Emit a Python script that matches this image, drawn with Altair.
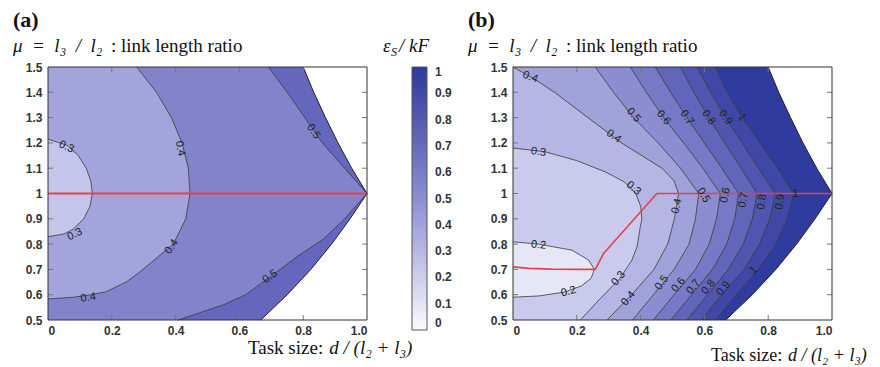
import altair as alt
import pandas as pd

# ---------------- data ----------------
# workspace boundary (same for both panels)
bnd_y = [0.5, 0.6, 0.7, 0.8, 0.9, 1.0, 1.1, 1.2, 1.3, 1.4, 1.5]
bnd_x = [0.667, 0.75, 0.824, 0.889, 0.947, 1.0, 0.952, 0.909, 0.87, 0.833, 0.80]

# panel (a) contours
a_c03_y = [0.829, 0.84, 0.86, 0.90, 0.95, 1.00, 1.05, 1.10, 1.15, 1.19, 1.215]
a_c03_x = [0.0, 0.05, 0.08, 0.112, 0.132, 0.139, 0.134, 0.12, 0.095, 0.06, 0.0]
a_c04_y = [0.583, 0.59, 0.60, 0.612, 0.65, 0.69, 0.75, 0.80, 0.90, 1.00, 1.10, 1.20, 1.30, 1.40, 1.50]
a_c04_x = [0.0, 0.08, 0.135, 0.183, 0.245, 0.288, 0.345, 0.393, 0.432, 0.445, 0.44, 0.42, 0.387, 0.34, 0.278]
a_c05_y = [0.50, 0.56, 0.60, 0.67, 0.75, 0.82, 0.90, 1.00, 1.10, 1.20, 1.30, 1.40, 1.50]
a_c05_x = [0.408, 0.55, 0.62, 0.696, 0.78, 0.864, 0.93, 1.0, 0.93, 0.86, 0.805, 0.75, 0.691]
a_red_x = [0.0, 1.0]
a_red_y = [1.0, 1.0]

# panel (b) contours
b_c02_y = [0.59, 0.595, 0.61, 0.635, 0.665, 0.70, 0.737, 0.776, 0.80, 0.809]
b_c02_x = [0.0, 0.08, 0.16, 0.215, 0.245, 0.255, 0.237, 0.185, 0.08, 0.0]
b_c03_y = [0.5, 0.58, 0.664, 0.737, 0.79, 0.868, 0.9, 0.95, 1.0, 1.045, 1.085, 1.13, 1.165, 1.18]
b_c03_x = [0.211, 0.27, 0.335, 0.373, 0.389, 0.399, 0.404, 0.40, 0.385, 0.35, 0.29, 0.2, 0.1, 0.0]
b_c04_y = [0.5, 0.6, 0.7, 0.8, 0.9, 1.0, 1.05, 1.1, 1.2, 1.3, 1.4, 1.45, 1.5]
b_c04_x = [0.295, 0.372, 0.442, 0.485, 0.506, 0.519, 0.505, 0.467, 0.34, 0.235, 0.13, 0.07, 0.0]
b_grid_y = [0.5, 0.6, 0.7, 0.8, 0.9, 1.0, 1.1, 1.2, 1.3, 1.4, 1.5]
b_c05_x = [0.375, 0.44, 0.505, 0.552, 0.572, 0.582, 0.525, 0.455, 0.378, 0.315, 0.258]
b_c06_x = [0.44, 0.505, 0.572, 0.615, 0.638, 0.65, 0.595, 0.535, 0.472, 0.418, 0.368]
b_c07_x = [0.495, 0.56, 0.625, 0.67, 0.695, 0.707, 0.655, 0.60, 0.545, 0.494, 0.446]
b_c08_x = [0.545, 0.61, 0.675, 0.722, 0.75, 0.765, 0.715, 0.664, 0.613, 0.567, 0.525]
b_c09_x = [0.59, 0.655, 0.725, 0.773, 0.805, 0.822, 0.77, 0.718, 0.666, 0.62, 0.577]
b_c10_x = [0.635, 0.70, 0.77, 0.825, 0.86, 0.88, 0.83, 0.775, 0.718, 0.672, 0.634]
b_red_x = [0.0, 0.05, 0.12, 0.2, 0.258, 0.284, 0.451, 1.0]
b_red_y = [0.71, 0.704, 0.701, 0.70, 0.70, 0.763, 1.0, 1.0]

# contour labels: text, x, y, angle (degrees, clockwise)
a_lab_t = ["0.3", "0.3", "0.4", "0.4", "0.4", "0.5", "0.5"]
a_lab_x = [0.058, 0.084, 0.414, 0.388, 0.126, 0.832, 0.696]
a_lab_y = [1.184, 0.838, 1.178, 0.789, 0.588, 1.245, 0.671]
a_lab_a = [25, 335, 80, 305, 352, 55, 325]

b_lab_t = ["0.4", "0.4", "0.5", "0.6", "0.7", "0.8", "0.9", "1",
           "0.3", "0.3", "0.4", "0.5", "0.6", "0.7", "0.8", "0.9", "1",
           "0.2", "0.2", "0.3", "0.4", "0.5", "0.6", "0.7", "0.8", "0.9", "1"]
b_lab_x = [0.054, 0.316, 0.378, 0.472, 0.545, 0.613, 0.666, 0.718,
           0.08, 0.378, 0.514, 0.597, 0.666, 0.723, 0.781, 0.838, 0.885,
           0.08, 0.174, 0.331, 0.362, 0.467, 0.519, 0.566, 0.613, 0.66, 0.754]
b_lab_y = [1.46, 1.226, 1.31, 1.30, 1.30, 1.30, 1.30, 1.30,
           1.164, 1.02, 0.95, 0.993, 0.993, 0.974, 0.967, 0.967, 1.0,
           0.796, 0.612, 0.664, 0.585, 0.647, 0.638, 0.631, 0.63, 0.625, 0.697]
b_lab_a = [20, 35, 50, 50, 55, 55, 55, 55,
           8, 40, 285, 60, 280, 280, 280, 280, 0,
           5, 345, 310, 310, 305, 310, 310, 310, 310, 315]

# band colours
a_cols = {"bnd": "#6566bd", "c05": "#8283cb", "c04": "#a3a4dc", "c03": "#c4c5ea"}
b_cols = {"bnd": "#2f3c9e", "c10": "#4048a7", "c09": "#5055b0", "c08": "#6266ba",
          "c07": "#7679c5", "c06": "#8b8dd0", "c05": "#a1a2da", "c04": "#b6b6e4",
          "c03": "#cacaed", "c02": "#e6e6f6"}

cb_vals = [0, 0.1, 0.2, 0.3, 0.4, 0.5, 0.6, 0.7, 0.8, 0.9, 1.0]
x_ticks = [0, 0.2, 0.4, 0.6, 0.8, 1.0]
y_ticks = [0.5, 0.6, 0.7, 0.8, 0.9, 1.0, 1.1, 1.2, 1.3, 1.4, 1.5]
x_inner = [0.2, 0.4, 0.6, 0.8]
y_inner = [0.6, 0.7, 0.8, 0.9, 1.0, 1.1, 1.2, 1.3, 1.4]

W, H = 319, 253
SERIF = "Liberation Serif"
SANS = "Liberation Sans"

xscale = alt.Scale(domain=[0, 1], nice=False, zero=False)
yscale = alt.Scale(domain=[0.5, 1.5], nice=False, zero=False)
xaxis = alt.Axis(values=x_ticks, title="", ticks=False, domain=False, grid=False,
                 labelExpr="datum.value == 0 ? '0' : format(datum.value, '.1f')",
                 labelFont=SANS, labelFontSize=12, labelFontWeight="bold",
                 labelColor="#333", labelPadding=5, labelOverlap=False)
yaxis = alt.Axis(values=y_ticks, title="", ticks=False, domain=False, grid=False,
                 labelExpr="format(datum.value, '.2~f')",
                 labelFont=SANS, labelFontSize=12, labelFontWeight="bold",
                 labelColor="#333", labelPadding=6, labelOverlap=False,
                 labelFlush=False, labelBound=False)


def df(xs, ys):
    return pd.DataFrame({"x": xs, "y": ys, "i": list(range(len(xs)))})


def X():
    return alt.X("x:Q", scale=xscale, axis=xaxis, stack=None)


def Y():
    return alt.Y("y:Q", scale=yscale, axis=yaxis)


def area(xs, ys, col):
    return alt.Chart(df(xs, ys)).mark_area(orient="horizontal", color=col, opacity=1).encode(
        y=Y(), x=X(), x2=alt.datum(0))


def cline(xs, ys, col="#3a3a3a", w=0.8):
    return alt.Chart(df(xs, ys)).mark_line(color=col, strokeWidth=w).encode(
        x=X(), y=Y(), order="i:Q")


def labels(t, xs, ys, angs):
    d = pd.DataFrame({"t": t, "x": xs, "y": ys, "a": angs})
    return alt.Chart(d).mark_text(font=SANS, fontSize=11, color="#222").encode(
        x=X(), y=Y(), text="t:N", angle=alt.Angle("a:Q", scale=None))


def inner_ticks():
    out = []
    dx = pd.DataFrame({"x": x_inner})
    dy = pd.DataFrame({"y": y_inner})
    out.append(alt.Chart(dx).mark_rule(color="#777", strokeWidth=1).encode(
        x=X(), y=alt.value(H), y2=alt.value(H - 5)))
    out.append(alt.Chart(dx).mark_rule(color="#777", strokeWidth=1).encode(
        x=X(), y=alt.value(0), y2=alt.value(5)))
    out.append(alt.Chart(dy).mark_rule(color="#777", strokeWidth=1).encode(
        y=Y(), x=alt.value(0), x2=alt.value(5)))
    out.append(alt.Chart(dy).mark_rule(color="#777", strokeWidth=1).encode(
        y=Y(), x=alt.value(W), x2=alt.value(W - 5)))
    return out


def frame():
    fx = pd.DataFrame({"x": [0.0], "x2": [1.0], "y": [0.5], "y2": [1.5]})
    return alt.Chart(fx).mark_rect(
        filled=False, stroke="#333", strokeWidth=1).encode(
        x=X(), x2="x2:Q", y=Y(), y2="y2:Q")


def text(s, px, py, size=19, style="normal", weight="normal", font=SERIF):
    return alt.Chart(pd.DataFrame({"t": [s]})).mark_text(
        font=font, fontSize=size, fontStyle=style, fontWeight=weight,
        align="left", baseline="alphabetic", color="#111").encode(
        text="t:N", x=alt.value(px), y=alt.value(py))


SP = "\u2002"


def titles(tag, left, xt_x, xt_y, xt_size):
    return [
        text(tag, left, -40, size=22, weight="bold"),
        text("μ" + SP + "=" + SP + "l₃" + SP + "/" + SP + "l₂", left, -15, style="italic"),
        text(": link length ratio", left + 98, -15),
        text("Task size: ", xt_x, xt_y, size=xt_size),
        text("d / (l₂ + l₃)", xt_x + 4.28 * xt_size, xt_y, size=xt_size, style="italic"),
    ]


# ---------------- panel (a) ----------------
layers_a = [
    area(bnd_x, bnd_y, a_cols["bnd"]),
    area(a_c05_x, a_c05_y, a_cols["c05"]),
    area(a_c04_x, a_c04_y, a_cols["c04"]),
    area(a_c03_x, a_c03_y, a_cols["c03"]),
    cline(a_c05_x, a_c05_y),
    cline(a_c04_x, a_c04_y),
    cline(a_c03_x, a_c03_y),
    cline(bnd_x, bnd_y, "#222", 1),
    cline(a_red_x, a_red_y, "#e8404a", 2),
    labels(a_lab_t, a_lab_x, a_lab_y, a_lab_a),
] + inner_ticks() + [frame()] + titles("(a)", -35, 200, 287, 19) + [
    text("ε", 335, -15, style="italic"),
    text("S", 343, -11, size=12, style="italic"),
    text(" / kF", 351, -15, style="italic"),
    alt.Chart(pd.DataFrame({"v": cb_vals})).mark_point(opacity=0).encode(
        x=alt.value(0), y=alt.value(0),
        color=alt.Color("v:Q",
                        scale=alt.Scale(domain=[0, 0.5, 1],
                                        range=["#fbfbfe", "#8c8ed1", "#2b3a9a"]),
                        legend=alt.Legend(orient="none", legendX=364, legendY=0,
                                          direction="vertical", title="",
                                          gradientLength=263, gradientThickness=15,
                                          values=cb_vals, labelFont=SANS,
                                          labelExpr="format(datum.value, '.1~f')",
                                          labelFontSize=12, labelFontWeight="bold",
                                          labelColor="#333", labelOffset=8,
                                          labelOverlap=False,
                                          gradientStrokeColor="#555",
                                          gradientStrokeWidth=1))),
]
panel_a = alt.layer(*layers_a).properties(width=W, height=H)

# ---------------- panel (b) ----------------
b_contours = [
    (b_c10_x, b_grid_y, "c10"), (b_c09_x, b_grid_y, "c09"), (b_c08_x, b_grid_y, "c08"),
    (b_c07_x, b_grid_y, "c07"), (b_c06_x, b_grid_y, "c06"), (b_c05_x, b_grid_y, "c05"),
    (b_c04_x, b_c04_y, "c04"), (b_c03_x, b_c03_y, "c03"), (b_c02_x, b_c02_y, "c02"),
]
layers_b = [area(bnd_x, bnd_y, b_cols["bnd"])]
layers_b += [area(xs, ys, b_cols[k]) for xs, ys, k in b_contours]
layers_b += [cline(xs, ys) for xs, ys, k in b_contours]
layers_b += [
    cline(bnd_x, bnd_y, "#222", 1),
    cline(b_red_x, b_red_y, "#e8404a", 1.6),
    labels(b_lab_t, b_lab_x, b_lab_y, b_lab_a),
] + inner_ticks() + [frame()] + titles("(b)", -45, 198, 294, 18)
panel_b = alt.layer(*layers_b).properties(width=W, height=H)

chart = alt.hconcat(panel_a, panel_b, spacing=38).configure_view(
    stroke=None).configure_axis(labelOverlap=False).configure_axisY(
    labelOverlap=False).properties(padding={"left": 5, "top": 1, "right": 0, "bottom": 0})

chart.save("out.html", embed_options={"renderer": "svg", "actions": False})
